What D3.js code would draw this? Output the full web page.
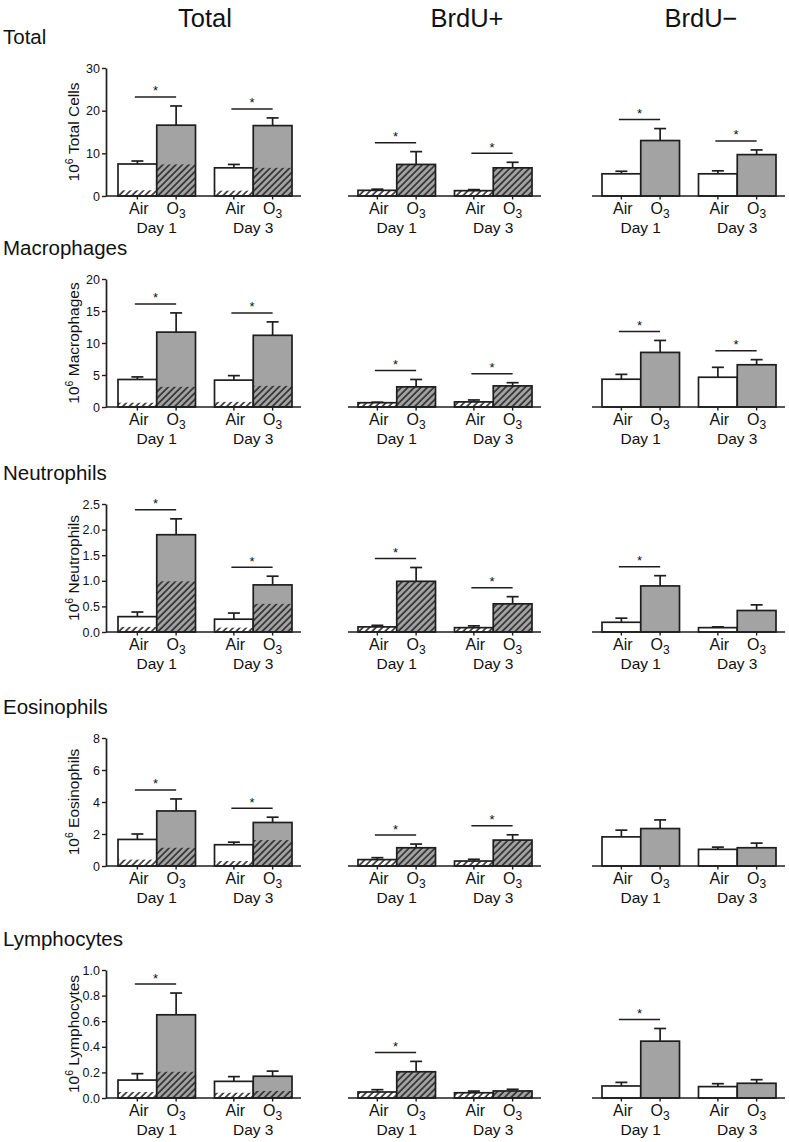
<!DOCTYPE html>
<html>
<head>
<meta charset="utf-8">
<script src="https://cdn.jsdelivr.net/npm/d3@7"></script>
<style>
  html, body { margin: 0; padding: 0; background: #fff; }
  svg { display: block; font-family: "Liberation Sans", Arial, Helvetica, sans-serif; }
</style>
</head>
<body>
<svg id="chart" width="789" height="1142"></svg>
<script>
// ---------------- DATA ----------------
const columnTitles = ["Total", "BrdU+", "BrdU\u2212"];
const cellTypes = ["Total", "Macrophages", "Neutrophils", "Eosinophils", "Lymphocytes"];
const yAxisLabels = ["Total Cells", "Macrophages", "Neutrophils", "Eosinophils", "Lymphocytes"];
const days = ["Day 1", "Day 3"];
const treatments = ["Air", "O3"];
const yMax = [30, 20, 2.5, 8, 1.0];
const yTicks = [
  [0, 10, 20, 30],
  [0, 5, 10, 15, 20],
  [0.0, 0.5, 1.0, 1.5, 2.0, 2.5],
  [0, 2, 4, 6, 8],
  [0.0, 0.2, 0.4, 0.6, 0.8, 1.0]
];
const yTickDecimals = [0, 0, 1, 0, 1];

// bar order in each row: [Air Day1, O3 Day1, Air Day3, O3 Day3]
const totalMean = [
  [7.5, 16.6, 6.6, 16.5],
  [4.3, 11.7, 4.2, 11.2],
  [0.30, 1.90, 0.25, 0.92],
  [1.66, 3.44, 1.33, 2.72],
  [0.14, 0.65, 0.13, 0.17]
];
const totalSEM = [
  [0.7, 4.5, 0.8, 1.8],
  [0.4, 3.0, 0.7, 2.1],
  [0.09, 0.31, 0.12, 0.17],
  [0.34, 0.75, 0.16, 0.33],
  [0.05, 0.17, 0.037, 0.04]
];
const brduPosMean = [
  [1.33, 7.4, 1.25, 6.6],
  [0.67, 3.15, 0.8, 3.3],
  [0.10, 0.99, 0.085, 0.55],
  [0.40, 1.14, 0.31, 1.62],
  [0.047, 0.205, 0.041, 0.055]
];
const brduPosSEM = [
  [0.27, 3.0, 0.25, 1.3],
  [0.08, 1.15, 0.3, 0.5],
  [0.03, 0.27, 0.035, 0.14],
  [0.12, 0.23, 0.11, 0.33],
  [0.018, 0.081, 0.013, 0.013]
];
const brduNegMean = [
  [5.2, 13.0, 5.2, 9.7],
  [4.34, 8.53, 4.65, 6.6],
  [0.19, 0.90, 0.085, 0.42],
  [1.82, 2.34, 1.04, 1.14],
  [0.094, 0.444, 0.089, 0.115]
];
const brduNegSEM = [
  [0.6, 2.8, 0.7, 1.1],
  [0.76, 1.87, 1.55, 0.8],
  [0.08, 0.2, 0.015, 0.11],
  [0.42, 0.54, 0.14, 0.29],
  [0.028, 0.099, 0.023, 0.028]
];
// significance (Air vs O3) per row: [Day1, Day3]
const totalSig = [[1, 1], [1, 1], [1, 1], [1, 1], [1, 0]];
const brduPosSig = [[1, 1], [1, 1], [1, 1], [1, 1], [1, 0]];
const brduNegSig = [[1, 1], [1, 1], [1, 0], [0, 0], [1, 0]];

// ---------------- LAYOUT ----------------
const svg = d3.select("#chart");
const rowBase = [196, 407, 632, 866, 1098];
const plotH = 128;
const colX0 = [118, 358, 602];
const groupW = 174;
const colTitleX = [205, 467, 701];
const ink = "#1e1e1e";
const grayFill = "#a3a3a3";
const sw = 1.7;

const defs = svg.append("defs");
function hatch(id, bg) {
  const p = defs.append("pattern").attr("id", id)
    .attr("patternUnits", "userSpaceOnUse")
    .attr("width", 4.6).attr("height", 4.6)
    .attr("patternTransform", "rotate(45)");
  p.append("rect").attr("width", 4.6).attr("height", 4.6).attr("fill", bg);
  p.append("line").attr("x1", 1).attr("y1", 0).attr("x2", 1).attr("y2", 4.6)
    .attr("stroke", "#2a2a2a").attr("stroke-width", 1.6);
}
hatch("hatchWhite", "#fff");
hatch("hatchGray", grayFill);

// column titles
columnTitles.forEach((t, i) => {
  svg.append("text").attr("x", colTitleX[i]).attr("y", 27)
    .attr("text-anchor", "middle").attr("font-size", 25.5).attr("fill", "#111").text(t);
});

const dayScale = d3.scaleBand().domain(days).range([0, groupW]).paddingInner(19 / 96.5).paddingOuter(0);
const trtScale = d3.scaleBand().domain(treatments).range([0, dayScale.bandwidth()]).padding(0);

const columns = [
  { mean: totalMean, sem: totalSEM, sig: totalSig, kind: "total" },
  { mean: brduPosMean, sem: brduPosSEM, sig: brduPosSig, kind: "pos" },
  { mean: brduNegMean, sem: brduNegSEM, sig: brduNegSig, kind: "neg" }
];

cellTypes.forEach((ct, r) => {
  const base = rowBase[r];
  const y = d3.scaleLinear().domain([0, yMax[r]]).range([base, base - plotH]);

  // row title
  svg.append("text").attr("x", 3).attr("y", base - 152)
    .attr("font-size", 20.5).attr("fill", "#111").text(ct);

  columns.forEach((col, c) => {
    const x0 = colX0[c];
    const g = svg.append("g").attr("transform", `translate(${x0},0)`);

    // y axis on first column
    if (c === 0) {
      const ax = g.append("g").attr("transform", "translate(-12,0)")
        .call(d3.axisLeft(y).tickValues(yTicks[r]).tickSize(4).tickSizeOuter(0).tickPadding(2)
          .tickFormat(d3.format("." + yTickDecimals[r] + "f")));
      ax.attr("font-size", 12.5).attr("font-family", "Liberation Sans, Arial, sans-serif");
      ax.select(".domain").attr("stroke", ink).attr("stroke-width", sw);
      ax.selectAll(".tick line").attr("stroke", ink).attr("stroke-width", 1.4);
      ax.selectAll(".tick text").attr("fill", "#111");

      const lab = svg.append("text")
        .attr("transform", `translate(79,${base - plotH / 2}) rotate(-90)`)
        .attr("text-anchor", "middle").attr("font-size", 15.5).attr("fill", "#111");
      lab.append("tspan").text("10");
      lab.append("tspan").attr("font-size", 10.5).attr("dy", -6).text("6");
      lab.append("tspan").attr("dy", 6).text("\u00a0" + yAxisLabels[r]);
    }

    const bars = [];
    days.forEach((d, di) => {
      treatments.forEach((t, ti) => {
        const idx = di * 2 + ti;
        bars.push({
          day: d, trt: t, di, ti,
          x: dayScale(d) + trtScale(t), w: trtScale.bandwidth(),
          v: col.mean[r][idx], e: col.sem[r][idx],
          pos: brduPosMean[r][idx]
        });
      });
    });

    // error bars (upward)
    bars.forEach(b => {
      const cx = b.x + b.w / 2;
      g.append("line").attr("x1", cx).attr("x2", cx)
        .attr("y1", y(b.v)).attr("y2", y(b.v + b.e))
        .attr("stroke", ink).attr("stroke-width", sw);
      g.append("line").attr("x1", cx - 6).attr("x2", cx + 6)
        .attr("y1", y(b.v + b.e)).attr("y2", y(b.v + b.e))
        .attr("stroke", ink).attr("stroke-width", sw);
    });

    // bars
    bars.forEach(b => {
      let fill;
      if (col.kind === "pos") fill = b.trt === "Air" ? "url(#hatchWhite)" : "url(#hatchGray)";
      else fill = b.trt === "Air" ? "#fff" : grayFill;
      g.append("rect").attr("x", b.x).attr("y", y(b.v))
        .attr("width", b.w).attr("height", y(0) - y(b.v)).attr("fill", fill);
      if (col.kind === "total") {
        g.append("rect").attr("x", b.x).attr("y", y(b.pos))
          .attr("width", b.w).attr("height", y(0) - y(b.pos))
          .attr("fill", b.trt === "Air" ? "url(#hatchWhite)" : "url(#hatchGray)");
      }
      g.append("rect").attr("x", b.x).attr("y", y(b.v))
        .attr("width", b.w).attr("height", y(0) - y(b.v))
        .attr("fill", "none").attr("stroke", ink).attr("stroke-width", sw);
    });

    // baseline (x axis)
    g.append("line").attr("x1", c === 0 ? -12 : -10).attr("x2", groupW + 9)
      .attr("y1", base).attr("y2", base).attr("stroke", ink).attr("stroke-width", sw);

    // x ticks and labels
    bars.forEach(b => {
      const cx = b.x + b.w / 2;
      g.append("line").attr("x1", cx).attr("x2", cx).attr("y1", base).attr("y2", base + 3.5)
        .attr("stroke", ink).attr("stroke-width", 1.4);
      const t = g.append("text").attr("x", cx + (b.trt === "Air" ? 1.5 : 0)).attr("y", base + 18)
        .attr("text-anchor", "middle").attr("font-size", 16).attr("fill", "#111");
      if (b.trt === "O3") {
        t.append("tspan").text("O");
        t.append("tspan").attr("font-size", 12).attr("dy", 4).text("3");
      } else {
        t.text(b.trt);
      }
    });
    days.forEach(d => {
      g.append("text").attr("x", dayScale(d) + dayScale.bandwidth() / 2).attr("y", base + 37)
        .attr("text-anchor", "middle").attr("font-size", 15.5).attr("fill", "#111").text(d);
    });

    // significance markers
    days.forEach((d, di) => {
      if (!col.sig[r][di]) return;
      const a = bars[di * 2], o = bars[di * 2 + 1];
      const top = Math.min(y(a.v + a.e), y(o.v + o.e));
      const ly = top - 9;
      const x1 = a.x + a.w / 2 - 2.5, x2 = o.x + o.w / 2;
      g.append("line").attr("x1", x1).attr("x2", x2).attr("y1", ly).attr("y2", ly)
        .attr("stroke", ink).attr("stroke-width", 1.5);
      g.append("text").attr("x", (x1 + x2) / 2).attr("y", ly - 1.5)
        .attr("text-anchor", "middle").attr("font-size", 13).attr("fill", "#111").text("*");
    });
  });
});
</script>
</body>
</html>
